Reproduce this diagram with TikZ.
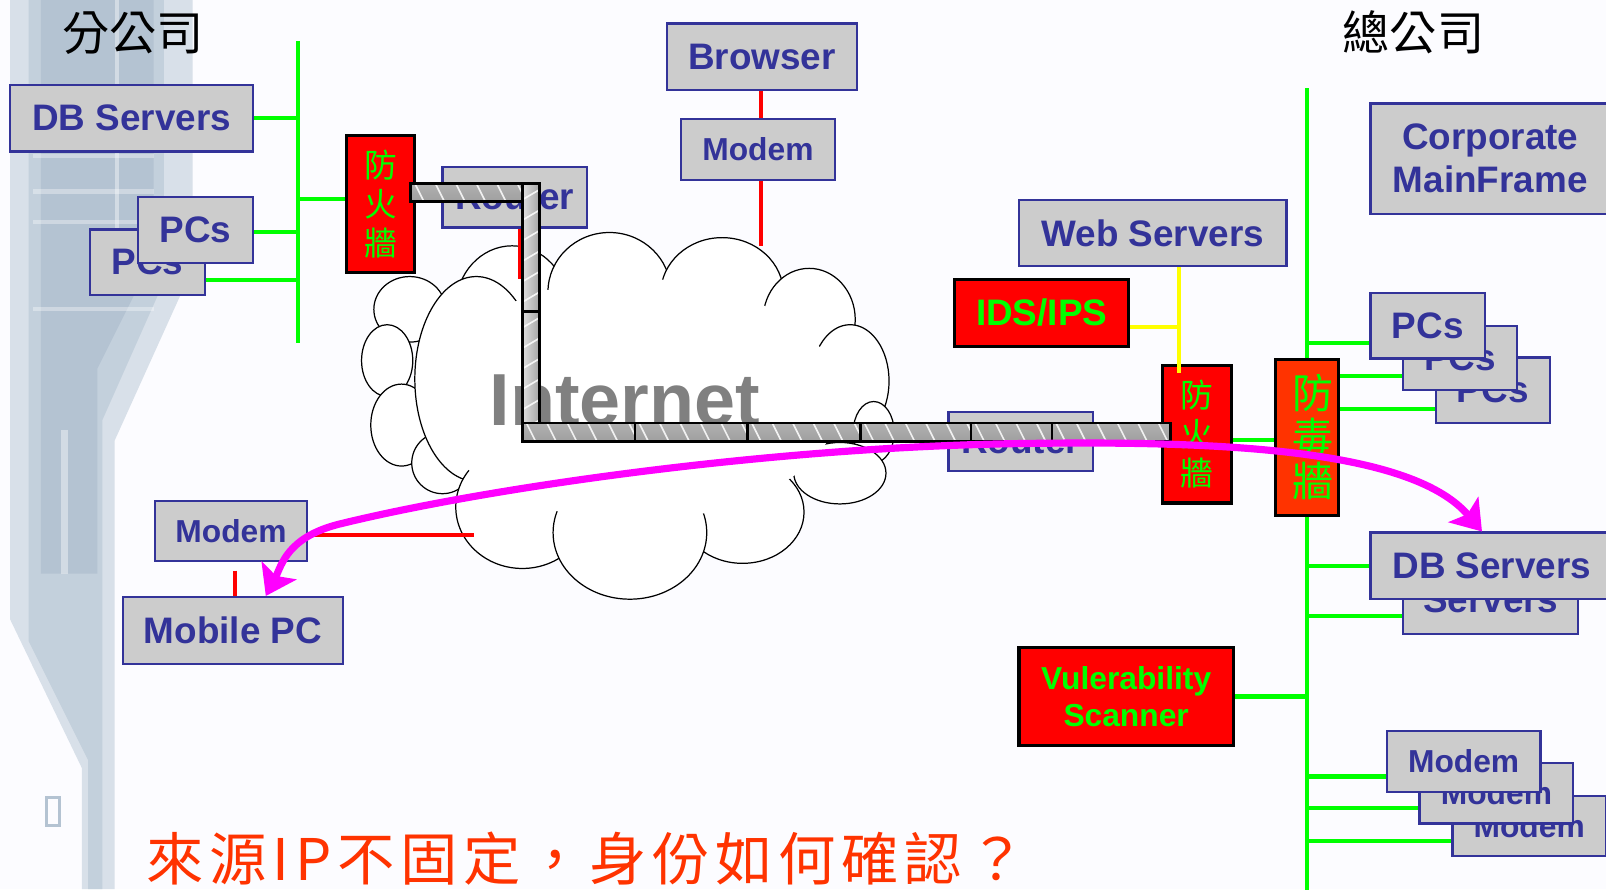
\documentclass[tikz,border=0pt]{standalone}
\usepackage{fontspec}
\setmainfont{Liberation Sans}
\newfontfamily\cjk{Noto Sans CJK TC}
\newfontfamily\cjkwide[LetterSpace=10]{Noto Sans CJK TC}
\usetikzlibrary{arrows.meta,calc}

\definecolor{paper}{HTML}{FCFCFF}
\definecolor{boxblue}{HTML}{333399}
\definecolor{boxgray}{HTML}{CCCCCC}
\definecolor{lan}{HTML}{00FF00}
\definecolor{wan}{HTML}{FF0000}
\definecolor{dmz}{HTML}{FFFF00}
\definecolor{routecol}{HTML}{FF00FF}
\definecolor{wallred}{HTML}{FF0000}
\definecolor{avred}{HTML}{FF3300}
\definecolor{notecol}{HTML}{FF3300}
\definecolor{inetgray}{HTML}{808080}
\definecolor{bldA}{HTML}{D8E0E9}
\definecolor{bldB}{HTML}{C3D0DC}
\definecolor{bldC}{HTML}{B4C3D2}

\pgfdeclarelayer{paper}
\pgfdeclarelayer{wires}
\pgfsetlayers{paper,wires,main}

% one straight piece of the leased-line pipe (x1,y1,x2,y2)
\newcommand\pipeh[4]{%
  \shade[top color=gray!62, middle color=gray!25, bottom color=gray!75] (#1,#2) rectangle (#3,#4);
  \begin{scope}
    \clip (#1,#2) rectangle (#3,#4);
    \foreach \s in {0,20,...,160}
      \draw[pipestripe] ({#1+\s+4},#2) -- ({#1+\s+13},#4);
  \end{scope}
  \draw[pipeedge] (#1,#2) rectangle (#3,#4);
}
\newcommand\pipev[4]{%
  \shade[left color=gray!25, right color=gray!72] (#1,#2) rectangle (#3,#4);
  \begin{scope}
    \clip (#1,#2) rectangle (#3,#4);
    \foreach \s in {0,20,...,160}
      \draw[pipestripe] (#1,{#2+\s+16}) -- (#3,{#2+\s+6});
  \end{scope}
  \draw[pipeedge] (#1,#2) rectangle (#3,#4);
}

\begin{document}
\begin{tikzpicture}[x=0.5pt,y=-0.5pt,
  dev/.style={draw=boxblue, fill=boxgray, line width=1.1pt, text=boxblue,
    font=\bfseries\fontsize{18}{21}\selectfont, inner sep=0pt, align=center},
  modemtxt/.style={font=\bfseries\fontsize{15.5}{18}\selectfont},
  sz/.style 2 args={minimum width=#1*0.5pt, minimum height=#2*0.5pt},
  guard/.style={draw=black, fill=wallred, line width=1.6pt, inner sep=0pt,
    align=center, text=lan},
  wallglyph/.style={font=\cjk\fontsize{16}{19}\selectfont},
  lanline/.style={draw=lan, line width=2pt},
  wanline/.style={draw=wan, line width=2pt},
  dmzline/.style={draw=dmz, line width=2pt},
  pipestripe/.style={draw=white, line width=0.8pt, opacity=0.85},
  pipeedge/.style={draw=black, line width=1.3pt},
  puff/.style={draw=black, line width=0.6pt, fill=white},
  flow/.style={draw=routecol, line width=3.5pt,
    {Stealth[length=14pt,width=19pt,inset=3pt]}-{Stealth[length=14pt,width=19pt,inset=3pt]}},
]
\useasboundingbox (0,0) rectangle (1568,868);

% ---------- backdrop: faded office tower on the left ----------
\begin{pgfonlayer}{paper}
  \fill[paper] (0,0) rectangle (1568,868);
  \fill[bldA] (10,0) -- (188,0) -- (188,262) -- (112,430) -- (112,868)
    -- (80,868) -- (80,750) -- (10,605) -- cycle;
  \fill[bldB] (28,0) -- (160,0) -- (160,275) -- (100,410) -- (100,868)
    -- (86,868) -- (86,742) -- (28,626) -- cycle;
  \fill[bldC] (40,0) -- (150,0) -- (150,250) -- (95,360) -- (95,560)
    -- (40,560) -- cycle;
  \foreach \yy in {95,150,185,215,300}
    \fill[white, opacity=0.35] (32,\yy) rectangle (150,\yy+4);
  \fill[white, opacity=0.4] (60,420) rectangle (66,560);
  \fill[white, opacity=0.4] (112,0) rectangle (116,240);
  \draw[bldC, line width=1.5pt] (45,779) rectangle (58,806);
\end{pgfonlayer}

% ---------- site titles ----------
\node[font=\cjk\fontsize{23}{26}\selectfont] (branch) at (130,32) {分公司};
\node[font=\cjk\fontsize{23}{26}\selectfont] (hq) at (1380,32) {總公司};

% ---------- branch office ----------
\node[dev, sz={237}{65}] (dbL) at (128.5,115.5) {DB Servers};
\node[dev, sz={112}{64}] (pcL2) at (144,256) {PCs};
\node[dev, sz={112}{65}] (pcL1) at (191,224.5) {PCs};
\node[guard, sz={67}{134}, wallglyph] (fwL) at (371.5,199) {防\\火\\牆};
\node[dev, sz={141}{59}] (rtL) at (502.5,192.5) {Router};

\coordinate (busLt) at (291,40);
\coordinate (busLb) at (291,335);
\begin{pgfonlayer}{wires}
  \draw[lanline] (busLt) -- (busLb);
  \draw[lanline] (dbL.east) -- (dbL.east -| busLt);
  \draw[lanline] ($(pcL1.east)+(0,2)$) -- ($(pcL1.east -| busLt)+(0,2)$);
  \draw[lanline] ($(pcL2.south east)+(0,-16)$) -- ($(pcL2.south east -| busLt)+(0,-16)$);
  \draw[lanline] ($(busLt |- fwL.west)+(0,-5)$) -- ($(fwL.west)+(0,-5)$);
\end{pgfonlayer}

% ---------- home user ----------
\node[dev, modemtxt, sz={149}{59}] (mdL) at (225.5,518.5) {Modem};
\node[dev, sz={215}{65}] (mobile) at (227.5,615.5) {Mobile PC};

% ---------- web surfer ----------
\node[dev, sz={186}{65}] (browser) at (744,55.5) {Browser};
\node[dev, modemtxt, sz={150}{60}] (mdT) at (740,146) {Modem};

% ---------- the Internet cloud ----------
\foreach \cx/\cy/\rx/\ry in {
    500/300/55/60, 595/285/60/58, 705/287/60/55, 790/312/45/50,
    830/372/38/55, 853/422/20/30, 400/302/35/32, 378/352/25/35,
    392/415/30/40, 432/452/30/30, 465/370/60/100, 820/462/45/30,
    725/500/60/50, 510/495/65/60, 615/520/75/65}
  \draw[puff] (\cx,\cy) ellipse [x radius=\rx, y radius=\ry];
\fill[white] (620,390) ellipse [x radius=200, y radius=118];

\coordinate (cloudTop) at (743,240);
\coordinate (cloudNW) at (508,272);
\coordinate (cloudW) at (463,522);
\coordinate (mobJ) at ($(mdL.south)+(3.5,8)$);
\draw[wanline] ($(mdT.north)+(3,0)$) -- ($(mdT.north |- browser.south)+(3,0)$);
\draw[wanline] (mdT.south -| cloudTop) -- (cloudTop);
\draw[wanline] (rtL.south -| cloudNW) -- (cloudNW);
\draw[wanline] (mdL.east |- cloudW) -- (cloudW);
\draw[wanline] (mobJ) -- (mobile.north -| mobJ);

\node[font=\bfseries\fontsize{36}{40}\selectfont, text=inetgray, anchor=base,
  inner sep=0pt] (inet) at (610,415) {Internet};

% ---------- head office ----------
\node[dev, sz={261}{65}] (web) at (1125.5,227.5) {Web Servers};
\node[guard, sz={170}{65}, font=\bfseries\fontsize{18}{21}\selectfont] (ids) at (1017,305.5) {IDS/IPS};
\node[dev, sz={141}{58}] (rtR) at (996.5,431) {Router};
\node[guard, sz={67}{134}, wallglyph] (fwR) at (1168.5,424) {防\\火\\牆};
\node[guard, fill=avred, sz={62}{152}, font=\cjk\fontsize{20}{21.5}\selectfont] (av) at (1276,427) {\kern6pt防\\\kern6pt毒\\\kern6pt牆};

\node[dev, sz={234}{108}] (mf) at (1455,155) {Corporate\\MainFrame};
\node[dev, sz={111}{64}] (pcR3) at (1457.5,381) {PCs};
\node[dev, sz={111}{63}] (pcR2) at (1425.5,349.5) {PCs};
\node[dev, sz={112}{64}] (pcR1) at (1394,318) {PCs};
\node[dev, sz={171}{66},
  label={[dev, draw=none, fill=none, yshift=10.5pt]center:DB\\Servers}] (dbR2) at (1455.5,586) {};
\node[dev, sz={237}{65}] (dbR1) at (1456.5,552.5) {DB Servers};
\node[guard, sz={209}{96}, font=\bfseries\fontsize{15.5}{18}\selectfont] (vuln) at (1099.5,680) {Vulerability\\Scanner};
\node[dev, modemtxt, sz={150}{59}] (mdR3) at (1493,806.5) {Modem};
\node[dev, modemtxt, sz={150}{59}] (mdR2) at (1461,774.5) {Modem};
\node[dev, modemtxt, sz={150}{59}] (mdR1) at (1429,743.5) {Modem};

\coordinate (busRt) at (1276,86);
\coordinate (busRb) at (1276,880);
\begin{pgfonlayer}{wires}
  \draw[lanline] (busRt) -- (busRb);
  \draw[lanline] ($(mf.west |- busRt)+(0,62)$) -- ($(mf.west)+(0,-7)$);
  \draw[lanline] ($(pcR1.south west)+(0,-16)$) -- ($(pcR1.south west -| busRt)+(0,-16)$);
  \draw[lanline] ($(pcR2.south west)+(0,-15)$) -- ($(pcR2.south west -| av.east)+(0,-15)$);
  \draw[lanline] ($(pcR3.south west)+(0,-15)$) -- ($(pcR3.south west -| av.east)+(0,-15)$);
  \draw[lanline] (dbR1.west) -- (dbR1.west -| busRt);
  \draw[lanline] ($(dbR2.south west)+(0,-19)$) -- ($(dbR2.south west -| busRt)+(0,-19)$);
  \draw[lanline] (vuln.east) -- (vuln.east -| busRt);
  \draw[lanline] ($(mdR1.south west)+(0,-16)$) -- ($(mdR1.south west -| busRt)+(0,-16)$);
  \draw[lanline] ($(mdR2.south west)+(0,-16)$) -- ($(mdR2.south west -| busRt)+(0,-16)$);
  \draw[lanline] ($(mdR3.south west)+(0,-16)$) -- ($(mdR3.south west -| busRt)+(0,-16)$);
  \draw[lanline] ($(fwR.east)+(0,6)$) -- ($(av.west |- fwR.east)+(0,6)$);
\end{pgfonlayer}

% DMZ feed
\coordinate (dmzJ) at (1151,319);
\draw[dmzline] (web.south -| dmzJ) -- ($(fwR.north -| dmzJ)+(0,9)$);
\draw[dmzline] (ids.east |- dmzJ) -- (dmzJ);

% ---------- leased line between the two firewalls ----------
\pipeh{401}{179}{512}{197}
\pipev{510}{179}{527}{304}
\pipev{510}{304}{527}{413}
\pipeh{510}{413}{620}{431}
\pipeh{620}{413}{730}{431}
\pipeh{730}{413}{840}{431}
\pipeh{840}{413}{948}{431}
\pipeh{948}{413}{1027}{431}
\pipeh{1027}{413}{1143}{431}

% ---------- remote access path ----------
\coordinate (mobTip) at ($(mobile.north)+(32,0)$);
\coordinate (dbTip) at ($(dbR1.north west)+(110,0)$);
\draw[flow] (mobTip) .. controls (275,552) and (280,525) .. (330,512)
  .. controls (480,475) and (760,436) .. (1000,433)
  .. controls (1200,430) and (1380,440) .. (dbTip);

% ---------- question ----------
\node[font=\cjkwide\fontsize{28}{30}\selectfont, text=notecol] (note) at (572,838)
  {來源IP不固定，身份如何確認？};
\end{tikzpicture}
\end{document}
